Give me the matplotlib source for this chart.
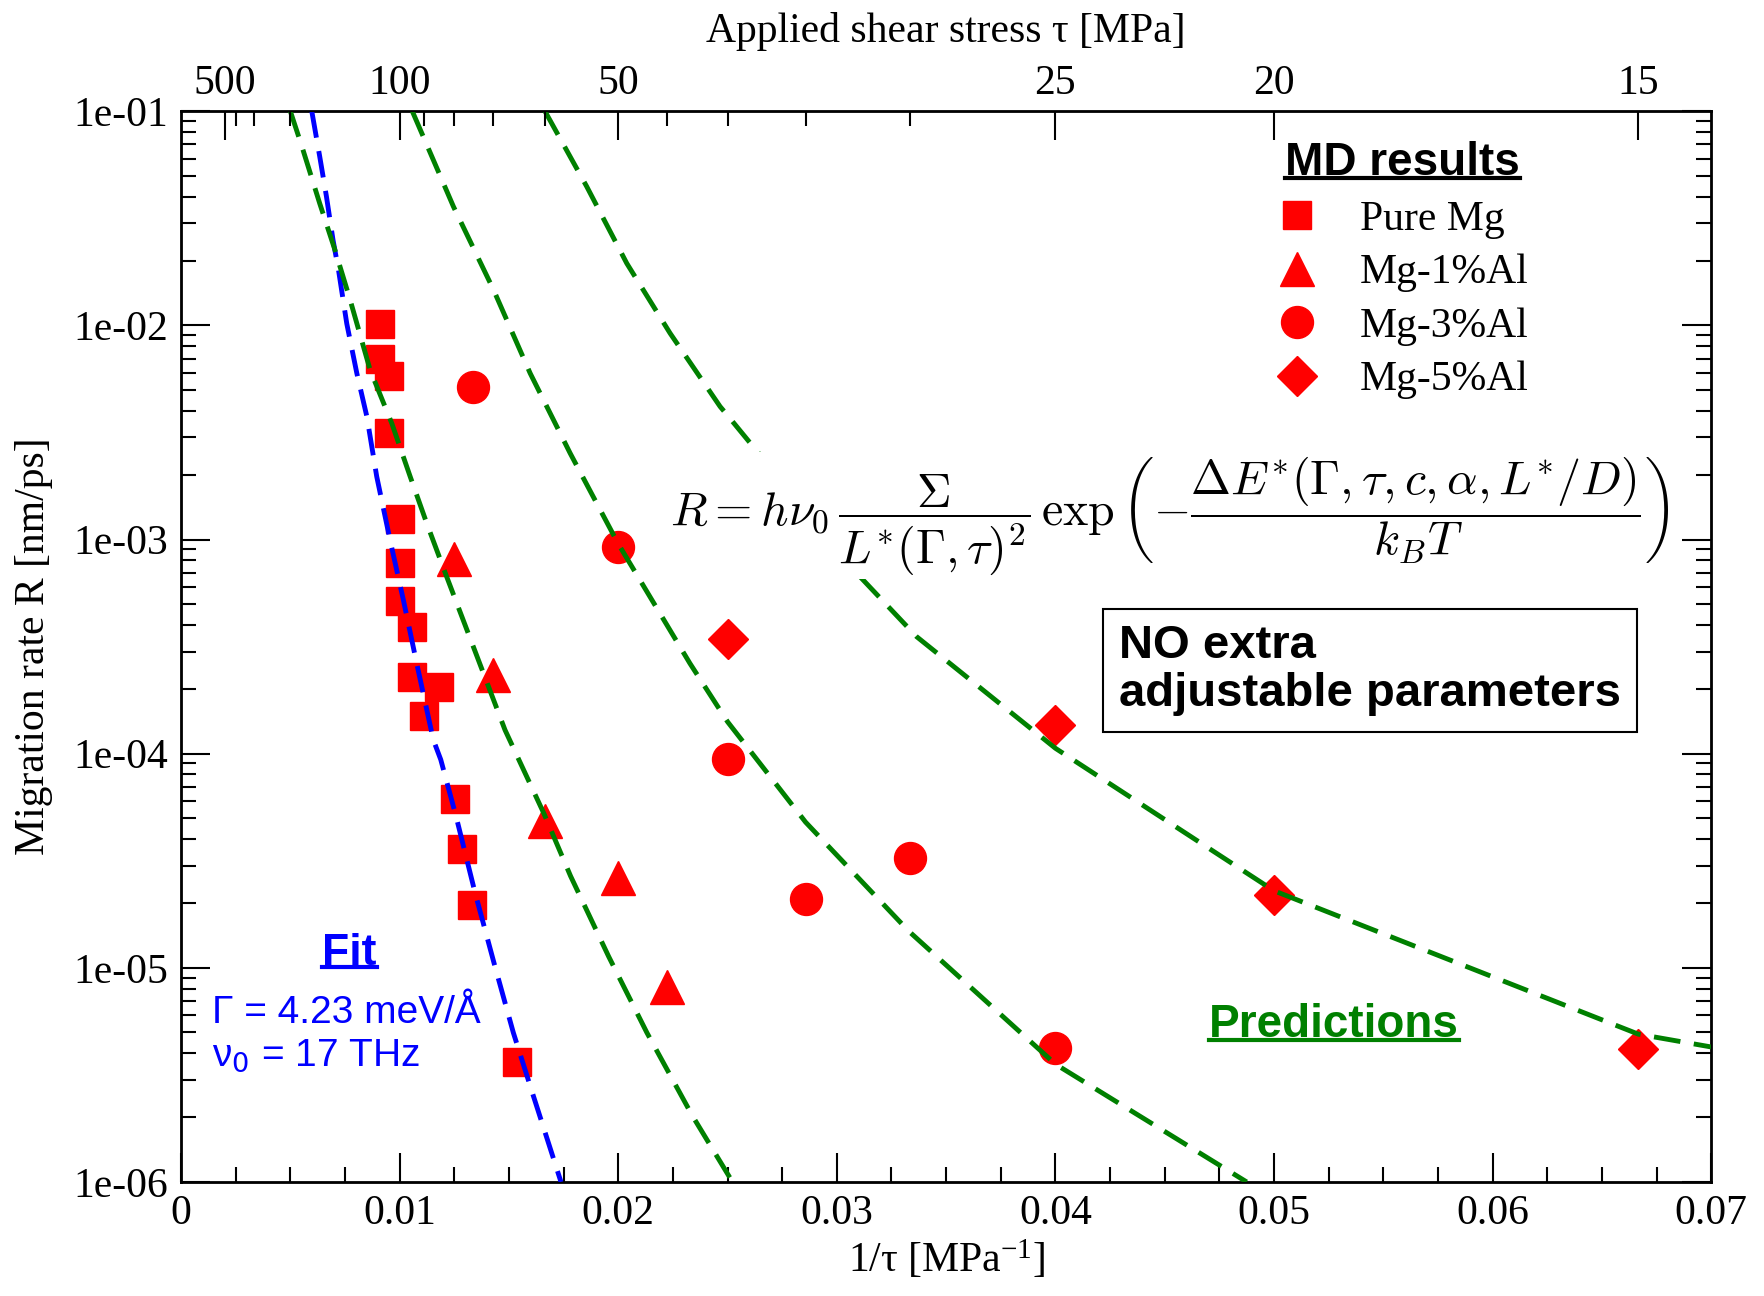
import numpy as np
import matplotlib
matplotlib.use('Agg')
import matplotlib.pyplot as plt
from matplotlib.lines import Line2D
from matplotlib.transforms import IdentityTransform
from matplotlib.ticker import FixedLocator, FixedFormatter, LogLocator, NullFormatter

plt.rcParams['font.family'] = 'Liberation Serif'
plt.rcParams['mathtext.fontset'] = 'custom'
plt.rcParams['mathtext.rm'] = 'Liberation Serif'
plt.rcParams['mathtext.it'] = 'Liberation Serif:italic'

# MD results, x = 1/tau [1/MPa], R [nm/ps]
pure_x = [0.0091, 0.0091, 0.00953, 0.00953, 0.01002, 0.01002, 0.01002, 0.01055,
          0.01055, 0.01179, 0.01112, 0.01251, 0.01284, 0.01333, 0.01537]
pure_R = [1.02e-2, 7.0e-3, 5.83e-3, 3.13e-3, 1.245e-3, 7.78e-4, 5.16e-4, 3.9e-4,
          2.28e-4, 2.04e-4, 1.5e-4, 6.14e-5, 3.59e-5, 1.97e-5, 3.64e-6]

al1_x = [0.0125, 0.01429, 0.01667, 0.02, 0.02222]
al1_R = [8.09e-4, 2.32e-4, 4.87e-5, 2.63e-5, 8.15e-6]

al3_x = [0.01334, 0.02, 0.025, 0.02857, 0.03333, 0.04]
al3_R = [5.14e-3, 9.2e-4, 9.4e-5, 2.09e-5, 3.27e-5, 4.22e-6]

al5_x = [0.025, 0.04, 0.05, 0.06667]
al5_R = [3.42e-4, 1.36e-4, 2.19e-5, 4.16e-6]

# fit for pure Mg
fit_x = [0.00598, 0.00634, 0.00665, 0.00695, 0.0072, 0.00758, 0.00804, 0.0085, 0.00895, 0.00956,
         0.01017, 0.01078, 0.01154, 0.01188, 0.01258, 0.01345, 0.01432, 0.0152, 0.01607, 0.01738]
fit_R = [1.0e-1, 6.17e-2, 4.0e-2, 2.51e-2, 1.82e-2, 1.02e-2, 5.98e-3, 3.75e-3, 1.97e-3, 9.95e-4,
         5.22e-4, 2.64e-4, 1.16e-4, 9.38e-5, 5.1e-5, 2.24e-5, 1.05e-5, 4.98e-6, 2.61e-6, 1.0e-6]

# predictions
pred1_x = [0.005, 0.00553, 0.00634, 0.00704, 0.00773, 0.00865, 0.00964, 0.01048, 0.01124,
           0.01215, 0.01337, 0.01482, 0.01659, 0.01782, 0.01956, 0.02131, 0.0234, 0.02515]
pred1_R = [1.0e-1, 6.84e-2, 3.72e-2, 2.25e-2, 1.32e-2, 6.19e-3, 3.49e-3, 1.97e-3, 1.19e-3,
           6.71e-4, 3.16e-4, 1.29e-4, 5.28e-5, 2.68e-5, 1.13e-5, 4.98e-6, 2.03e-6, 1.03e-6]

pred3_x = [0.01058, 0.01246, 0.01429, 0.01597, 0.0178, 0.02, 0.02328, 0.025, 0.02857, 0.0333, 0.04, 0.04875]
pred3_R = [1.0e-1, 3.59e-2, 1.47e-2, 5.98e-3, 2.53e-3, 9.55e-4, 2.64e-4, 1.41e-4, 4.79e-5, 1.48e-5, 3.55e-6, 1.0e-6]

pred5_x = [0.01665, 0.01856, 0.02039, 0.02237, 0.02466, 0.025, 0.03106, 0.03365, 0.04, 0.05, 0.06667, 0.07]
pred5_R = [1.0e-1, 4.45e-2, 1.95e-2, 9.2e-3, 4.18e-3, 3.8e-3, 6.71e-4, 3.52e-4, 1.06e-4, 2.29e-5, 4.9e-6, 4.27e-6]

xticks = [0, 0.01, 0.02, 0.03, 0.04, 0.05, 0.06, 0.07]
xtick_labels = ['0', '0.01', '0.02', '0.03', '0.04', '0.05', '0.06', '0.07']
yticks = [1e-6, 1e-5, 1e-4, 1e-3, 1e-2, 1e-1]
ytick_labels = ['1e-06', '1e-05', '1e-04', '1e-03', '1e-02', '1e-01']
stress_major = [500, 100, 50, 25, 20, 15]
stress_minor = [400, 300, 200, 90, 80, 70, 60, 45, 40, 35, 30]

red = '#ff0000'
green = '#008000'
blue = '#0000ff'
dash = (0, (5.5, 2.8))

fig = plt.figure(figsize=(17.65, 12.96), dpi=100)
ax = fig.add_axes([0.1026, 0.088, 0.8669, 0.8261])

ax.plot(pure_x, pure_R, 's', color=red, ms=20.5, ls='none', label='Pure Mg', zorder=3)
ax.plot(al1_x, al1_R, '^', color=red, ms=24, ls='none', label='Mg-1%Al', zorder=3)
ax.plot(al3_x, al3_R, 'o', color=red, ms=23, ls='none', label='Mg-3%Al', zorder=3)
ax.plot(al5_x, al5_R, 'D', color=red, ms=20, ls='none', label='Mg-5%Al', zorder=3)

ax.plot(fit_x, fit_R, color=blue, lw=3.5, ls=dash, zorder=4)
for px, pr in [(pred1_x, pred1_R), (pred3_x, pred3_R), (pred5_x, pred5_R)]:
    ax.plot(px, pr, color=green, lw=3.5, ls=dash, zorder=4)

ax.set_yscale('log')
ax.set_xlim(0, 0.07)
ax.set_ylim(1e-6, 1e-1)
ax.xaxis.set_major_locator(FixedLocator(xticks))
ax.xaxis.set_major_formatter(FixedFormatter(xtick_labels))
ax.xaxis.set_minor_locator(FixedLocator(np.arange(0, 0.0701, 0.0025)))
ax.yaxis.set_major_locator(FixedLocator(yticks))
ax.yaxis.set_major_formatter(FixedFormatter(ytick_labels))
ax.yaxis.set_minor_locator(LogLocator(base=10, subs=np.arange(2, 10), numticks=20))
ax.yaxis.set_minor_formatter(NullFormatter())
ax.tick_params(which='both', direction='in', width=1.5, labelsize=30, pad=9)
ax.tick_params(axis='y', which='both', left=True, right=True)
ax.tick_params(which='major', length=21)
ax.tick_params(which='minor', length=10.5)
for s in ax.spines.values():
    s.set_linewidth(2)

ax2 = ax.twiny()
ax2.set_xlim(0, 0.07)
ax2.xaxis.set_major_locator(FixedLocator([1.0 / s for s in stress_major]))
ax2.xaxis.set_major_formatter(FixedFormatter([str(s) for s in stress_major]))
ax2.xaxis.set_minor_locator(FixedLocator([1.0 / s for s in stress_minor]))
ax2.tick_params(which='both', direction='in', width=1.5, labelsize=30, pad=6)
ax2.tick_params(which='major', length=21)
ax2.tick_params(which='minor', length=10.5)
ax2.set_xlabel('Applied shear stress τ [MPa]', fontsize=30, labelpad=16)

ax.set_xlabel(r'1/τ [MPa$^{-1}$]', fontsize=30, labelpad=4)
ax.set_ylabel('Migration rate R [nm/ps]', fontsize=30, labelpad=15)

leg = ax.legend(loc='upper left', bbox_to_anchor=(0.716, 0.972), frameon=False,
                title='MD results',
                title_fontproperties={'family': 'Liberation Sans', 'weight': 'bold', 'size': 33},
                fontsize=30, handlelength=1.0, handletextpad=1.0, labelspacing=0.36,
                borderpad=0, borderaxespad=0, numpoints=1)

formula = (r'$R = h\nu_0\,\dfrac{\Sigma}{L^{*}(\Gamma,\tau)^{2}}\,'
           r'\exp\left(-\dfrac{\Delta E^{*}(\Gamma,\tau,c,\alpha,L^{*}/D)}{k_B T}\right)$')
ax.text(0.646, 0.6225, formula, transform=ax.transAxes, ha='center', va='center',
        fontsize=34.5, math_fontfamily='cm', zorder=6,
        bbox=dict(boxstyle='square,pad=0.05', fc='white', ec='none'))

ax.text(0.613, 0.478, 'NO extra\nadjustable parameters', transform=ax.transAxes,
        ha='left', va='center', fontsize=34, fontweight='bold', family='Liberation Sans',
        linespacing=1.12, zorder=6,
        bbox=dict(boxstyle='square,pad=0.33', fc='white', ec='black', lw=1.5))

pred_txt = ax.text(0.7535, 0.147, 'Predictions', transform=ax.transAxes, ha='center', va='center',
                   fontsize=33, fontweight='bold', family='Liberation Sans', color=green, zorder=6)
fit_txt = ax.text(0.110, 0.2135, 'Fit', transform=ax.transAxes, ha='center', va='center',
                  fontsize=32, fontweight='bold', family='Liberation Sans', color=blue, zorder=6)
ax.text(0.0199, 0.158, 'Γ = 4.23 meV/Å', transform=ax.transAxes, ha='left', va='center',
        fontsize=28, family='Liberation Sans', color=blue, zorder=6)
ax.text(0.0199, 0.118, 'ν$_0$ = 17 THz', transform=ax.transAxes, ha='left', va='center',
        fontsize=28, family='Liberation Sans', color=blue, math_fontfamily='dejavusans', zorder=6)

fig.canvas.draw()
renderer = fig.canvas.get_renderer()


def underline(txt, color, lw=3.0, frac=0.16):
    bb = txt.get_window_extent(renderer)
    y = bb.y0 + frac * bb.height
    fig.add_artist(Line2D([bb.x0, bb.x1], [y, y], transform=IdentityTransform(),
                          color=color, lw=lw))


underline(leg.get_title(), 'black')
underline(pred_txt, green)
underline(fit_txt, blue)

fig.savefig('out.png', dpi=100)
